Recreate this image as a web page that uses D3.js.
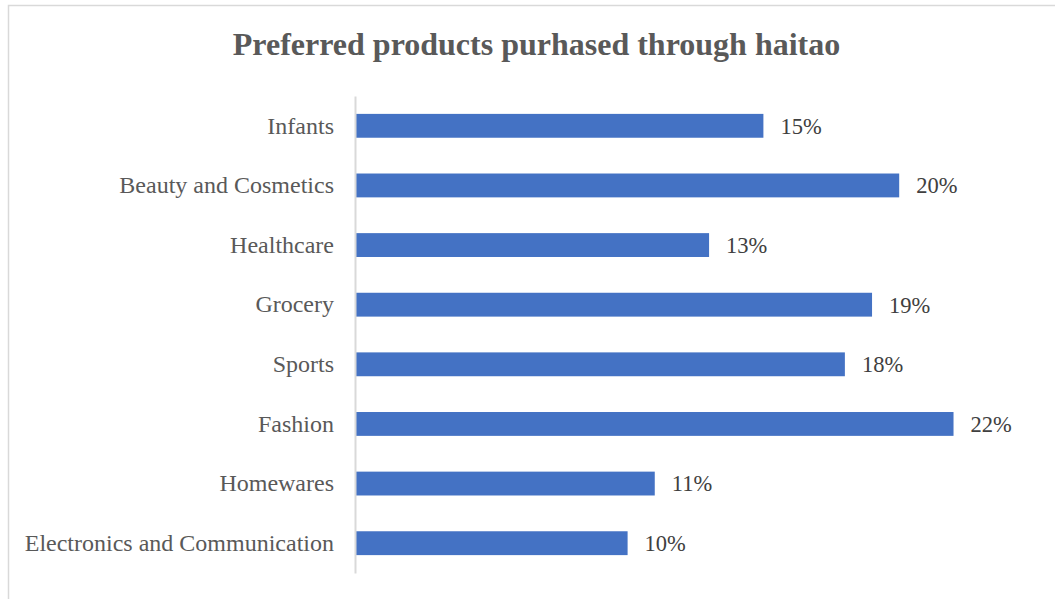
<!DOCTYPE html>
<html>
<head>
<meta charset="utf-8">
<script src="https://cdn.jsdelivr.net/npm/d3@7"></script>
<style>
  body { margin: 0; background: #fff; }
  text { font-family: "Liberation Serif", "Times New Roman", serif; }
</style>
</head>
<body>
<div id="chart"></div>
<script>
var svgWidth = 1055;
var svgHeight = 599;

// categories listed top to bottom
var categories = ["Infants", "Beauty and Cosmetics", "Healthcare", "Grocery",
  "Sports", "Fashion", "Homewares", "Electronics and Communication"];
var shares = [0.15, 0.20, 0.13, 0.19, 0.18, 0.22, 0.11, 0.10];
var valueLabels = ["15%", "20%", "13%", "19%", "18%", "22%", "11%", "10%"];

var chartTitle = "Preferred products purhased through haitao";

var margin = { top: 96, right: 20, bottom: 26, left: 356 };

var svg = d3.select("#chart")
  .append("svg")
  .attr("width", svgWidth)
  .attr("height", svgHeight);

// chart frame (runs off the right and bottom edges)
svg.append("rect")
  .attr("x", 8.5)
  .attr("y", 5.5)
  .attr("width", 1100)
  .attr("height", 700)
  .attr("fill", "#fff")
  .attr("stroke", "#d9d9d9")
  .attr("stroke-width", 1.5);

svg.append("text")
  .attr("x", 536.5)
  .attr("y", 55)
  .attr("text-anchor", "middle")
  .attr("font-size", "32px")
  .attr("font-weight", "bold")
  .attr("fill", "#595959")
  .text(chartTitle);

var data = categories.map(function(c, i) {
  return { cat: c, value: shares[i], label: valueLabels[i] };
});

var x = d3.scaleLinear()
  .domain([0, 0.25])
  .range([margin.left, margin.left + 679]);

var y = d3.scaleBand()
  .domain(categories)
  .range([margin.top, svgHeight - margin.bottom])
  .paddingInner(0.6)
  .paddingOuter(0.3);

// bars
svg.selectAll("rect.bar")
  .data(data)
  .enter()
  .append("rect")
  .attr("class", "bar")
  .attr("x", x(0))
  .attr("y", d => y(d.cat))
  .attr("width", d => x(d.value) - x(0))
  .attr("height", y.bandwidth())
  .attr("fill", "#4472c4");

// category axis
var leftAxis = d3.axisLeft(y).tickSize(0).tickPadding(21);
var yAxis = svg.append("g")
  .attr("transform", `translate(${margin.left - 1}, 0)`)
  .call(leftAxis);

yAxis.select(".domain")
  .attr("stroke", "#d9d9d9")
  .attr("stroke-width", 2);

yAxis.selectAll("text")
  .attr("font-size", "24px")
  .attr("fill", "#595959")
  .attr("font-family", "Liberation Serif, Times New Roman, serif");

// value labels
svg.selectAll("text.value")
  .data(data)
  .enter()
  .append("text")
  .attr("class", "value")
  .attr("x", d => x(d.value) + 17)
  .attr("y", d => y(d.cat) + y.bandwidth() / 2)
  .attr("dy", "0.35em")
  .attr("font-size", "22.5px")
  .attr("fill", "#404040")
  .text(d => d.label);
</script>
</body>
</html>
